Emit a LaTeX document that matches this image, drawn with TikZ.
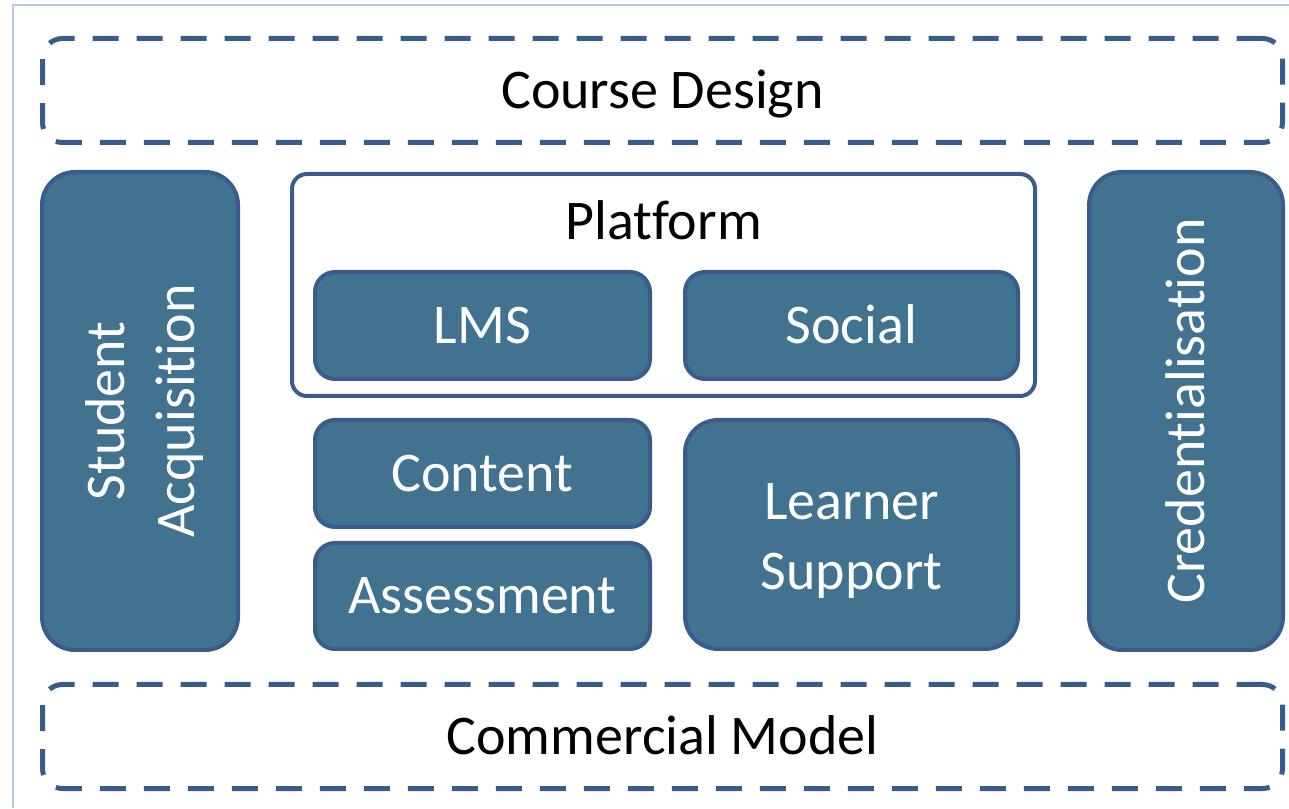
\documentclass[tikz,border=0pt]{standalone}
\usepackage{fontspec}
\setmainfont{Carlito}[Ligatures=NoCommon]
\usetikzlibrary{positioning}
\definecolor{boxfill}{RGB}{65,114,143}
\definecolor{boxline}{RGB}{58,92,140}
\definecolor{framec}{RGB}{180,199,231}
\newcommand{\clrfill}{boxfill}
\newcommand{\clrline}{boxline}

\begin{document}
\begin{tikzpicture}[x=1pt, y=1pt,
    txt/.style={font=\fontsize{56}{70}\selectfont, align=center},
    oneline/.style={text height=42pt, text depth=6pt},
    twoline/.style={text height=119pt},
    block/.style={txt, draw=\clrline, fill=\clrfill, line width=4pt, rounded corners=20pt,
        text=white, inner sep=0pt},
    tallblock/.style={block, rotate=90, rounded corners=33pt, minimum width=478pt, minimum height=196pt},
    layer/.style={txt, oneline, draw=\clrline, line width=5pt, dash pattern=on 26pt off 18pt,
        rounded corners=20pt, minimum width=1240pt, minimum height=104pt}
]
    \useasboundingbox (0,0) rectangle (1289,808);
    %frame round the picture
    \draw[framec, line width=1.5pt] (13,0) -- (13,803) -- (1289,803);

    %dashed layers
    \node[layer] (design) at (662.5,717.5) {Course Design};
    \node[layer] (commercial) at (662.5,71.5) {Commercial Model};

    %side columns
    \node[tallblock, twoline] (acquisition) at (140,397) {Student\\Acquisition};
    \node[tallblock, oneline, minimum height=194pt] (credential) at (1186,397) {Credentialisation};

    %platform and its parts
    \node[draw=\clrline, fill=white, line width=4pt, rounded corners=15pt,
        minimum width=743pt, minimum height=222pt] (platform) at (663.5,523) {};
    \node[txt, oneline] (platformtitle) at (663.5,586) {Platform};
    \node[block, oneline, minimum width=335pt, minimum height=107pt] (lms) at (482.5,482.5) {LMS};
    \node[block, oneline, minimum width=333pt, minimum height=107pt] (social) at (851.5,482.5) {Social};

    %lower middle blocks
    \node[block, oneline, minimum width=335pt, minimum height=107pt] (content) at (482.5,334.5) {Content};
    \node[block, oneline, minimum width=335pt, minimum height=106pt] (assessment) at (482.5,212) {Assessment};
    \node[block, twoline, rounded corners=33pt, minimum width=333pt, minimum height=229pt] (support) at (851.5,273.5) {Learner\\Support};
\end{tikzpicture}
\end{document}
